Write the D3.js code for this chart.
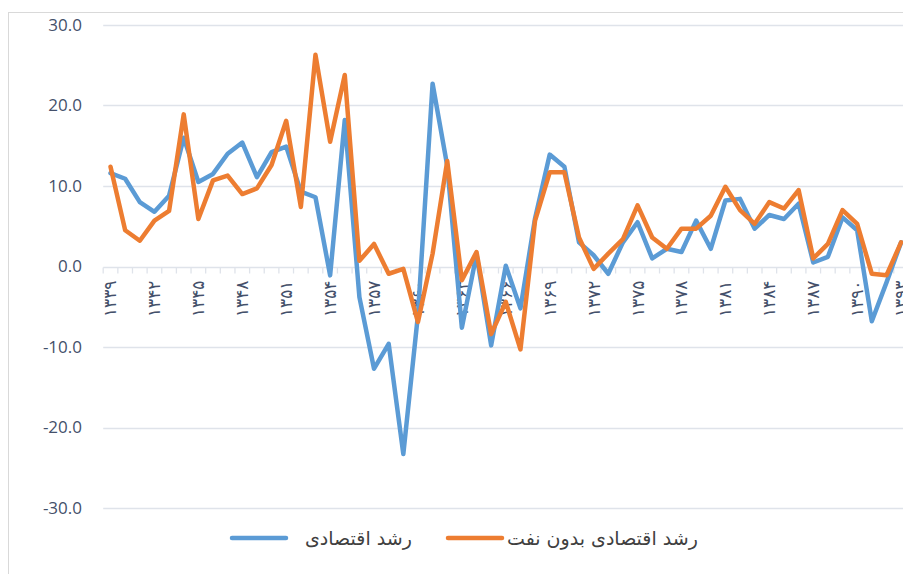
<!DOCTYPE html>
<html>
<head>
<meta charset="utf-8">
<script src="https://cdn.jsdelivr.net/npm/d3@7"></script>
<style>
  html, body { margin: 0; padding: 0; background: #ffffff; }
  svg { display: block; }
</style>
</head>
<body>
<svg id="chart" width="903" height="574"></svg>
<script>
// ---- data ----
const years = d3.range(1339, 1394);
const growth = [11.6, 10.9, 8.0, 6.8, 8.8, 16.0, 10.5, 11.5, 14.0, 15.4,
  11.1, 14.2, 14.9, 9.3, 8.6, -1.1, 18.2, -3.8, -12.7, -9.6,
  -23.3, -6.0, 22.7, 12.5, -7.6, 1.5, -9.8, 0.1, -5.2, 6.0,
  13.9, 12.4, 3.0, 1.4, -0.9, 3.0, 5.5, 1.0, 2.2, 1.8,
  5.7, 2.2, 8.2, 8.4, 4.7, 6.4, 5.9, 7.8, 0.5, 1.2,
  6.1, 4.5, -6.8, -2.0, 3.0];
const growthNonOil = [12.4, 4.5, 3.2, 5.7, 6.9, 18.9, 5.9, 10.7, 11.3, 9.0,
  9.7, 12.6, 18.1, 7.4, 26.3, 15.5, 23.8, 0.7, 2.8, -0.9,
  -0.3, -6.9, 1.6, 13.1, -1.7, 1.8, -8.4, -4.4, -10.3, 5.7,
  11.7, 11.7, 3.6, -0.3, 1.6, 3.4, 7.6, 3.6, 2.2, 4.7,
  4.7, 6.3, 9.9, 7.0, 5.3, 8.0, 7.2, 9.5, 1.0, 2.8,
  7.0, 5.3, -0.9, -1.1, 3.0];
const yTicks = [-30, -20, -10, 0, 10, 20, 30];
const xTickYears = d3.range(1339, 1394, 3);
const seriesNames = ["رشد اقتصادی", "رشد اقتصادی بدون نفت"];
const seriesColors = ["#5b9bd5", "#ed7d31"];

const faDigits = "۰۱۲۳۴۵۶۷۸۹";
const toFa = n => String(n).replace(/\d/g, d => faDigits[+d]);

// ---- layout ----
const svg = d3.select("#chart");
const plotLeft = 103.2, step = 14.64;
const x = d3.scaleBand().domain(years).range([plotLeft, plotLeft + step * years.length]).padding(0);
const y = d3.scaleLinear().domain([-30, 30]).range([508, 25]);
const gridColor = "#dfe3ea";
const textColor = "#44506a";

// outer border
svg.append("rect").attr("x", 8.5).attr("y", 12.5).attr("width", 1200).attr("height", 1200)
  .attr("fill", "none").attr("stroke", "#d9d9d9").attr("stroke-width", 1);

// gridlines
svg.append("g").selectAll("line").data(yTicks.filter(v => v !== 0)).join("line")
  .attr("x1", plotLeft).attr("x2", 903)
  .attr("y1", d => Math.round(y(d)) + 0.5).attr("y2", d => Math.round(y(d)) + 0.5)
  .attr("stroke", gridColor).attr("stroke-width", 1.3);

// y labels
svg.append("g").selectAll("text").data(yTicks).join("text")
  .attr("x", 82).attr("y", d => y(d)).attr("dy", "0.35em")
  .attr("text-anchor", "end")
  .attr("font-family", "'Open Sans', 'DejaVu Sans', sans-serif")
  .attr("font-size", 17).attr("fill", textColor)
  .text(d => d.toFixed(1));

// x axis line + ticks at category boundaries
const y0 = Math.round(y(0)) + 0.5;
svg.append("line").attr("x1", plotLeft).attr("x2", 903).attr("y1", y0).attr("y2", y0)
  .attr("stroke", gridColor).attr("stroke-width", 1.3);
svg.append("g").selectAll("line").data(years.concat([years[years.length - 1] + 1])).join("line")
  .attr("x1", (d, i) => plotLeft + i * step).attr("x2", (d, i) => plotLeft + i * step)
  .attr("y1", y0).attr("y2", y0 + 6)
  .attr("stroke", gridColor).attr("stroke-width", 1.3);

// x tick labels (rotated)
svg.append("g").selectAll("text").data(xTickYears).join("text")
  .attr("transform", d => `translate(${x(d) + x.bandwidth() / 2},${y0 + 13}) rotate(-90)`)
  .attr("text-anchor", "end").attr("dy", "0.35em")
  .attr("font-family", "'DejaVu Sans', sans-serif")
  .attr("font-size", 17).attr("fill", textColor)
  .text(d => toFa(d));

// lines
const line = d3.line().x((d, i) => x(years[i]) + x.bandwidth() / 2).y(d => y(d));
[growth, growthNonOil].forEach((s, k) => {
  svg.append("path").datum(s).attr("d", line)
    .attr("fill", "none").attr("stroke", seriesColors[k]).attr("stroke-width", 4.5)
    .attr("stroke-linejoin", "round").attr("stroke-linecap", "round");
});

// legend
const legendY = 538;
const legendItems = [
  { x1: 232, x2: 286, tx: 305 },
  { x1: 448, x2: 502, tx: 507 }
];
legendItems.forEach((it, k) => {
  svg.append("line").attr("x1", it.x1).attr("x2", it.x2).attr("y1", legendY).attr("y2", legendY)
    .attr("stroke", seriesColors[k]).attr("stroke-width", 4.5).attr("stroke-linecap", "round");
  svg.append("text").attr("x", it.tx).attr("y", legendY).attr("dy", "0.35em")
    .attr("text-anchor", "start")
    .attr("font-family", "'DejaVu Sans', sans-serif")
    .attr("font-size", 19).attr("fill", "#404040")
    .text(seriesNames[k]);
});
</script>
</body>
</html>
